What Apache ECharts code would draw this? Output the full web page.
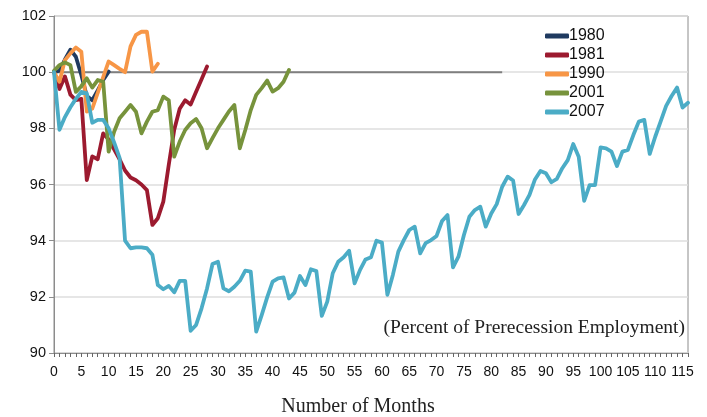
<!DOCTYPE html>
<html>
<head>
<meta charset="utf-8">
<script src="https://cdn.jsdelivr.net/npm/echarts@6/dist/echarts.min.js"></script>
<style>html,body{margin:0;padding:0;background:#fff}#c{width:707px;height:417px}</style>
</head>
<body>
<div id="c"></div>
<script>
const months = Array.from({length: 117}, (_, i) => String(i));
const yTicks = [90, 92, 94, 96, 98, 100, 102];
const names = ['1980', '1981', '1990', '2001', '2007'];
const colors = ['#1f3a60', '#9c1a2f', '#f79646', '#77933c', '#4bacc6'];

const s1980 = [100, 100.05, 100.45, 100.8, 100.55, 99.9, 99.15, 99.0, 99.35, 99.72, 100.02];
const s1981 = [100, 99.4, 99.85, 99.2, 99.0, 99.05, 96.16, 97.0, 96.9, 97.82, 97.6, 97.25, 96.9, 96.5, 96.25, 96.15, 96.0, 95.8, 94.56, 94.8, 95.39, 96.7, 97.95, 98.7, 99.0, 98.85, 99.3, 99.75, 100.2];
const s1990 = [100, 99.66, 100.43, 100.67, 100.88, 100.73, 98.6, 98.7, 99.26, 99.82, 100.38, 100.25, 100.12, 100.0, 100.92, 101.33, 101.44, 101.44, 100.02, 100.3];
const s2001 = [100.05, 100.25, 100.35, 100.25, 99.3, 99.5, 99.78, 99.45, 99.72, 99.66, 97.17, 97.88, 98.36, 98.59, 98.83, 98.59, 97.82, 98.24, 98.59, 98.65, 99.13, 99.0, 96.99, 97.53, 97.94, 98.18, 98.33, 98.0, 97.29, 97.65, 98.0, 98.3, 98.6, 98.83, 97.29, 97.94, 98.65, 99.19, 99.43, 99.7, 99.31, 99.43, 99.66, 100.08];
const s2007 = [100, 97.95, 98.4, 98.75, 99.05, 99.3, 99.25, 98.2, 98.3, 98.3, 98.0, 97.5, 96.95, 94.0, 93.73, 93.76, 93.76, 93.73, 93.5, 92.42,
  92.27, 92.39, 92.16, 92.57, 92.57, 90.79, 91.0, 91.59, 92.3, 93.17, 93.25, 92.3, 92.2, 92.36, 92.57, 92.93, 92.9, 90.76, 91.35, 91.98,
  92.54, 92.66, 92.69, 91.94, 92.15, 92.74, 92.42, 92.98, 92.92, 91.32, 91.83, 92.84, 93.25, 93.41, 93.64, 92.48, 92.96, 93.33, 93.41, 94.0,
  93.93, 92.07, 92.78, 93.61, 94.02, 94.38, 94.5, 93.55, 93.91, 94.02, 94.17, 94.7, 94.91, 93.05, 93.43, 94.2, 94.85, 95.09, 95.21, 94.5,
  94.97, 95.3, 95.92, 96.28, 96.14, 94.95, 95.27, 95.63, 96.18, 96.48, 96.4, 96.08, 96.2, 96.58, 96.87, 97.44, 96.99, 95.42, 95.98, 95.98,
  97.32, 97.29, 97.17, 96.66, 97.17, 97.23, 97.76, 98.24, 98.3, 97.09, 97.7, 98.25, 98.8, 99.15, 99.45, 98.74, 98.91];

const refLevel = 100;
const refEndMonth = 82;
const refData = months.map((m, i) => i <= refEndMonth ? refLevel : null);

const seriesData = [s1980, s1981, s1990, s2001, s2007];

const chart = echarts.init(document.getElementById('c'), null, {renderer: 'canvas'});
const series = [{
  name: 'ref', type: 'line', data: refData, showSymbol: false, silent: true,
  lineStyle: {color: '#7f7f7f', width: 2}, z: 1
}];
names.forEach((n, i) => {
  series.push({
    name: n, type: 'line', data: seriesData[i], showSymbol: false, symbol: 'none',
    lineStyle: {color: colors[i], width: 3.8, cap: 'round', join: 'round'},
    itemStyle: {color: colors[i]}, z: 2 + i
  });
});

chart.setOption({
  animation: false,
  backgroundColor: '#fff',
  grid: {left: 54, right: 19, top: 16, bottom: 64, show: true, borderColor: '#8c8c8c', borderWidth: 1},
  legend: {
    data: names, orient: 'vertical', left: 540, top: 23, itemWidth: 24, itemHeight: 5, itemGap: 3,
    icon: 'roundRect',
    textStyle: {fontFamily: '"Liberation Sans", Arial, sans-serif', fontSize: 16, color: '#111', padding: [0, 0, 0, -5]}
  },
  xAxis: {
    type: 'category', data: months, boundaryGap: false,
    axisLine: {lineStyle: {color: '#8c8c8c', width: 1}},
    axisTick: {show: true, interval: 0, length: 4, lineStyle: {color: '#666'}},
    axisLabel: {interval: 4, margin: 12, fontFamily: '"Liberation Sans", Arial, sans-serif', fontSize: 14, color: '#111'},
    splitLine: {show: false}
  },
  yAxis: {
    type: 'value', min: yTicks[0], max: yTicks[yTicks.length - 1], interval: 2,
    axisLine: {show: true, lineStyle: {color: '#8c8c8c', width: 1}},
    axisTick: {show: true, length: 5, lineStyle: {color: '#8c8c8c'}},
    axisLabel: {margin: 8, fontFamily: '"Liberation Sans", Arial, sans-serif', fontSize: 14.5, color: '#111'},
    splitLine: {lineStyle: {color: '#dedede', width: 1.5}}
  },
  graphic: [
    {type: 'text', x: 685, y: 328, style: {text: '(Percent of Prerecession Employment)', textAlign: 'right', textVerticalAlign: 'middle', font: '19.5px "Liberation Serif", "Times New Roman", serif', fill: '#222'}},
    {type: 'text', x: 358, y: 407, style: {text: 'Number of Months', textAlign: 'center', textVerticalAlign: 'middle', font: '20px "Liberation Serif", "Times New Roman", serif', fill: '#222'}}
  ],
  series: series
});
</script>
</body>
</html>
